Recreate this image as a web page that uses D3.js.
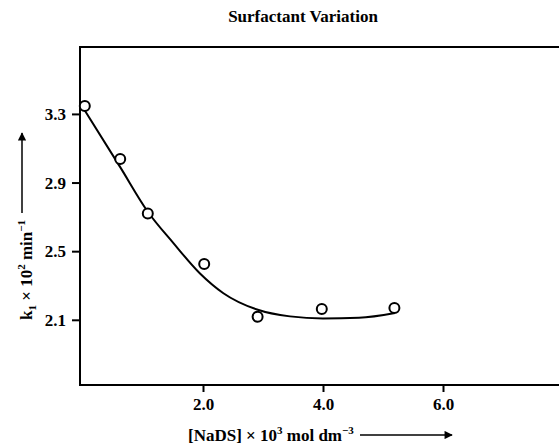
<!DOCTYPE html>
<html>
<head>
<meta charset="utf-8">
<script src="https://cdn.jsdelivr.net/npm/d3@7"></script>
<style>
  body { margin: 0; background: #fff; }
  svg text { font-family: "Liberation Serif", "Times New Roman", serif; font-weight: bold; fill: #000; }
</style>
</head>
<body>
<div id="chart"></div>
<script>
//data
const nads = [0.03, 0.62, 1.08, 2.02, 2.91, 3.98, 5.19];
const k1 = [3.346, 3.037, 2.72, 2.425, 2.118, 2.163, 2.169];

//fitted curve as drawn
const fitX = [0.03, 0.62, 1.08, 1.5, 1.95, 2.34, 2.9, 3.45, 4.0, 4.6, 5.2];
const fitY = [3.32, 2.99, 2.73, 2.55, 2.37, 2.255, 2.16, 2.12, 2.108, 2.112, 2.14];

const xTicks = [2.0, 4.0, 6.0];
const yTicks = [2.1, 2.5, 2.9, 3.3];

//size
const W = 559, H = 445;
const margin = { top: 47, right: -7, bottom: 60, left: 80 },
  width = W - margin.left - margin.right,
  height = H - margin.top - margin.bottom;

const svg = d3.select("#chart")
  .append("svg")
  .attr("width", W)
  .attr("height", H);

const g = svg.append("g")
  .attr("transform", "translate(" + margin.left + "," + margin.top + ")");

const x = d3.scaleLinear().domain([-0.05, 8.05]).range([0, width]);
const y = d3.scaleLinear().domain([1.72, 3.69]).range([height, 0]);

//frame (right side runs off the page)
g.append("rect")
  .attr("x", 0).attr("y", 0)
  .attr("width", width).attr("height", height)
  .attr("fill", "none")
  .attr("stroke", "#000")
  .attr("stroke-width", 2);

//axes
const xAxis = g.append("g")
  .attr("transform", "translate(0," + height + ")")
  .call(d3.axisBottom(x).tickValues(xTicks).tickFormat(d3.format(".1f")).tickSize(7).tickSizeOuter(0));

const yAxis = g.append("g")
  .call(d3.axisLeft(y).tickValues(yTicks).tickFormat(d3.format(".1f")).tickSize(8).tickSizeOuter(0));

[xAxis, yAxis].forEach(a => {
  a.select(".domain").remove();
  a.selectAll(".tick line").attr("stroke", "#000").attr("stroke-width", 2);
  a.selectAll(".tick text")
    .attr("font-family", null)
    .style("font-size", "17px");
});
xAxis.selectAll(".tick text").attr("dy", null).attr("y", 25);
yAxis.selectAll(".tick text").attr("x", -14).attr("dy", "0.34em");

//curve
const line = d3.line()
  .x(d => x(d[0]))
  .y(d => y(d[1]))
  .curve(d3.curveMonotoneX);

g.append("path")
  .datum(d3.zip(fitX, fitY))
  .attr("d", line)
  .attr("fill", "none")
  .attr("stroke", "#000")
  .attr("stroke-width", 2);

//points
g.append("g")
  .selectAll("circle")
  .data(d3.zip(nads, k1))
  .enter()
  .append("circle")
  .attr("cx", d => x(d[0]))
  .attr("cy", d => y(d[1]))
  .attr("r", 5)
  .attr("fill", "#fff")
  .attr("stroke", "#000")
  .attr("stroke-width", 2);

//title
svg.append("text")
  .attr("x", 303)
  .attr("y", 22)
  .attr("text-anchor", "middle")
  .style("font-size", "17px")
  .text("Surfactant Variation");

//arrow head
svg.append("defs").append("marker")
  .attr("id", "head")
  .attr("viewBox", "0 0 10 10")
  .attr("refX", 9).attr("refY", 5)
  .attr("markerWidth", 6.5).attr("markerHeight", 5.5)
  .attr("markerUnits", "strokeWidth")
  .attr("orient", "auto")
  .append("path")
  .attr("d", "M0,0L10,5L0,10Z")
  .attr("fill", "#000");

//x label
const xl = svg.append("text")
  .attr("x", 188)
  .attr("y", 441)
  .style("font-size", "17px");
xl.append("tspan").text("[NaDS] × 10");
xl.append("tspan").attr("dy", -7).style("font-size", "11px").text("3");
xl.append("tspan").attr("dy", 7).text(" mol dm");
xl.append("tspan").attr("dy", -7).style("font-size", "11px").text("−3");

svg.append("line")
  .attr("x1", 360).attr("y1", 435)
  .attr("x2", 452).attr("y2", 435)
  .attr("stroke", "#000")
  .attr("stroke-width", 1.5)
  .attr("marker-end", "url(#head)");

//y label
const yl = svg.append("text")
  .attr("transform", "translate(32,320) rotate(-90)")
  .style("font-size", "17px");
yl.append("tspan").text("k");
yl.append("tspan").attr("dy", 4).style("font-size", "11px").text("1");
yl.append("tspan").attr("dy", -4).text(" × 10");
yl.append("tspan").attr("dy", -7).style("font-size", "11px").text("2");
yl.append("tspan").attr("dy", 7).text(" min");
yl.append("tspan").attr("dy", -7).style("font-size", "11px").text("−1");

svg.append("line")
  .attr("x1", 22).attr("y1", 213)
  .attr("x2", 22).attr("y2", 133)
  .attr("stroke", "#000")
  .attr("stroke-width", 1.5)
  .attr("marker-end", "url(#head)");
</script>
</body>
</html>
